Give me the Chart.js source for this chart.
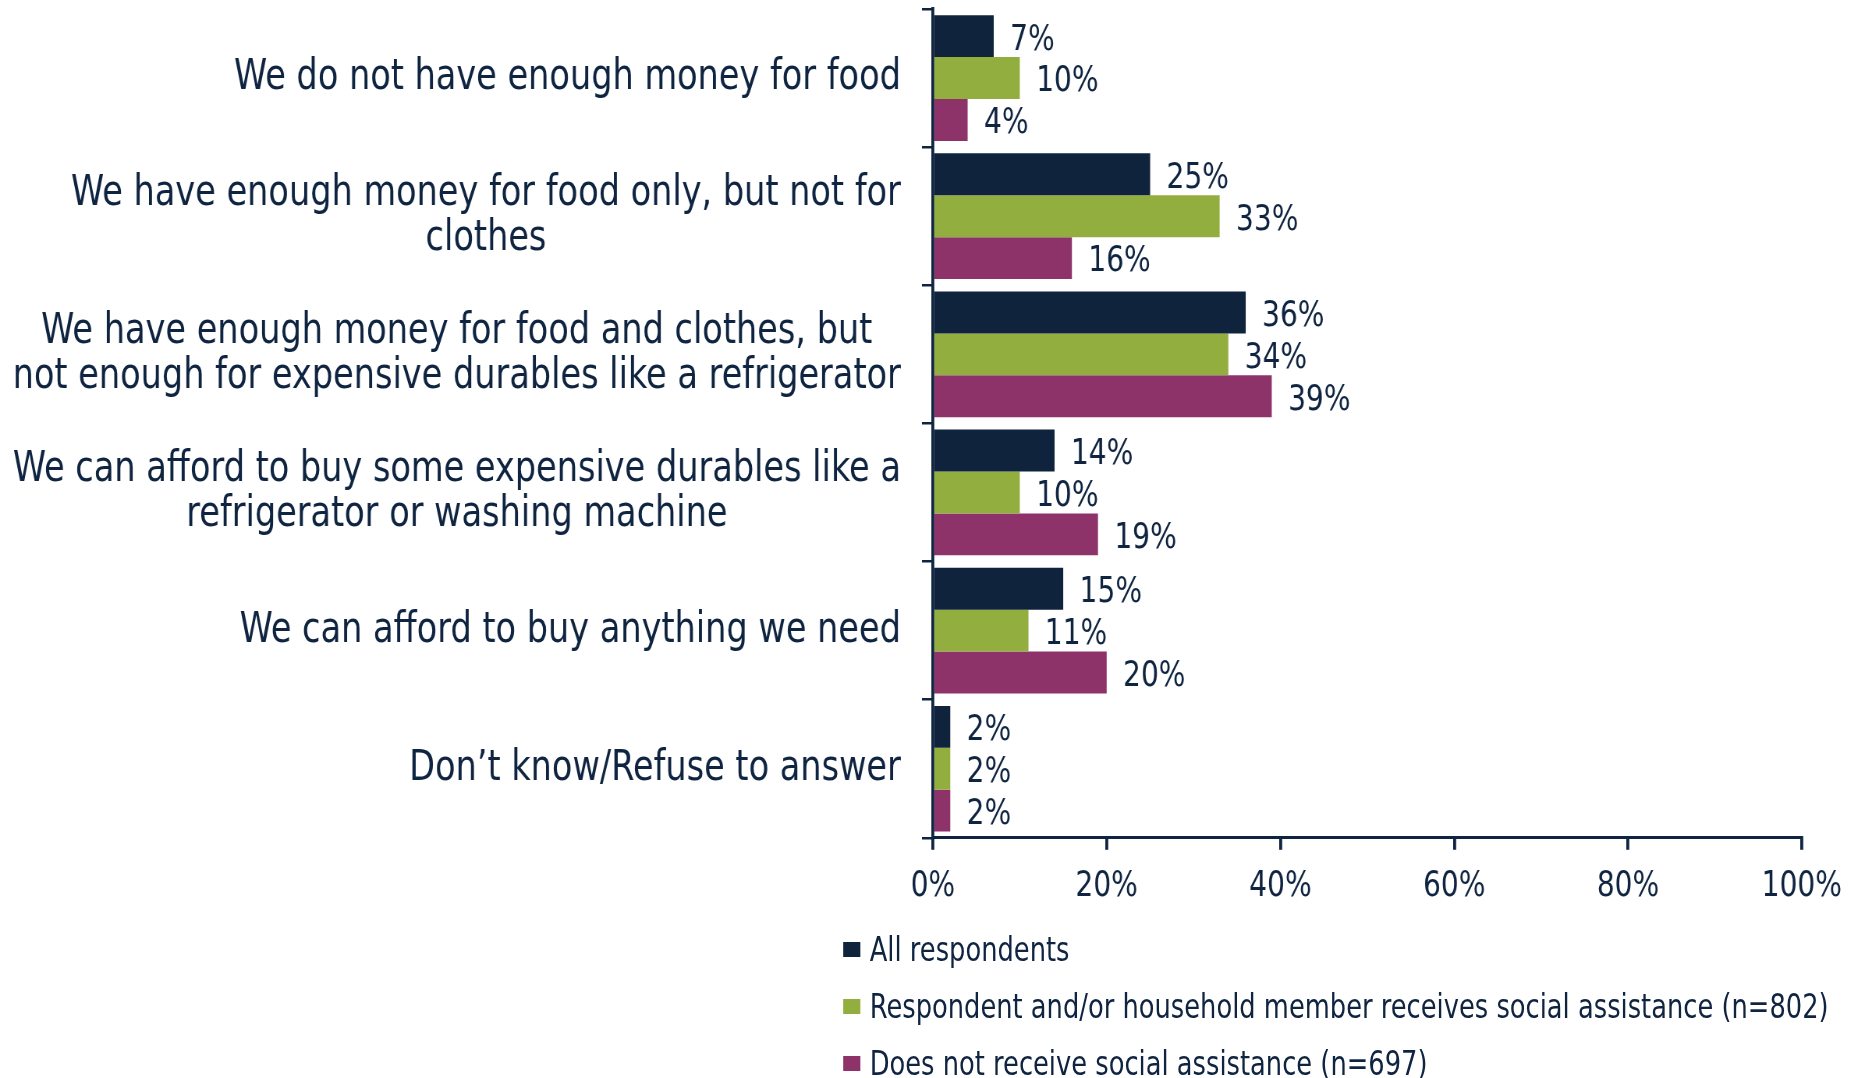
<!DOCTYPE html>
<html>
<head>
<meta charset="utf-8">
<title>Household financial situation</title>
<script src="https://cdn.jsdelivr.net/npm/chart.js@4.4.1/dist/chart.umd.min.js"></script>
<style>
  html, body { margin: 0; padding: 0; background: #fff; overflow: hidden; }
  /* the whole chart is drawn wide and squeezed, like the narrow type of the original */
  #wrap { position: relative; width: 2385px; height: 1078px; transform: scaleX(0.78); transform-origin: 0 0; }
  #legend { position: absolute; left: 1081px; top: 921px; font-family: "DejaVu Sans", sans-serif; font-size: 33px; color: #0f2440; }
  .item { height: 57px; display: flex; align-items: center; white-space: nowrap; }
  .box { width: 22px; height: 15px; margin-right: 12px; }
</style>
</head>
<body>
<div id="wrap">
  <canvas id="chart" width="2385" height="1078"></canvas>
  <div id="legend"></div>
</div>
<script>
const categories = [
    "We do not have enough money for food",
    ["We have enough money for food only, but not for", "clothes"],
    ["We have enough money for food and clothes, but", "not enough for expensive durables like a refrigerator"],
    ["We can afford to buy some expensive durables like a", "refrigerator or washing machine"],
    "We can afford to buy anything we need",
    "Don\u2019t know/Refuse to answer"
];

const seriesNames = [
    "All respondents",
    "Respondent and/or household member receives social assistance (n=802)",
    "Does not receive social assistance (n=697)"
];

const allRespondents = [7, 25, 36, 14, 15, 2];
const receivesAssistance = [10, 33, 34, 10, 11, 2];
const noAssistance = [4, 16, 39, 19, 20, 2];

const xTickValues = [0, 20, 40, 60, 80, 100];

const navy = '#0f2440';
const colors = ['#10233d', '#92ae3f', '#8e336a'];

Chart.defaults.font.family = '"DejaVu Sans", sans-serif';
Chart.defaults.color = navy;

// value labels at the end of each bar
const valueLabels = {
    id: 'valueLabels',
    afterDatasetsDraw(chart) {
        const ctx = chart.ctx;
        ctx.save();
        ctx.font = '36px "DejaVu Sans"';
        ctx.fillStyle = navy;
        ctx.textAlign = 'left';
        ctx.textBaseline = 'middle';
        chart.data.datasets.forEach((ds, i) => {
            chart.getDatasetMeta(i).data.forEach((bar, j) => {
                ctx.fillText(ds.data[j] + '%', bar.x + 21, bar.y + 4);
            });
        });
        ctx.restore();
    }
};

// two-line category labels are centred on themselves, the block stays right aligned
const centerLabelBlocks = {
    id: 'centerLabelBlocks',
    beforeDraw(chart) {
        const scale = chart.scales.y;
        const items = scale.getLabelItems();
        const sizes = scale._getLabelSizes();
        items.forEach((item, i) => {
            if (item.centered) return;
            item.options.textAlign = 'center';
            item.options.translation[0] -= sizes.widths[i] / 2;
            item.centered = true;
        });
    }
};

const data = {
    labels: categories,
    datasets: [
        { label: seriesNames[0], data: allRespondents, backgroundColor: colors[0] },
        { label: seriesNames[1], data: receivesAssistance, backgroundColor: colors[1] },
        { label: seriesNames[2], data: noAssistance, backgroundColor: colors[2] }
    ]
};

const config = {
    type: 'bar',
    data: data,
    options: {
        indexAxis: 'y',
        responsive: false,
        animation: false,
        layout: { padding: { top: 9, right: 75, bottom: 155, left: 0 } },
        datasets: { bar: { categoryPercentage: 0.91, barPercentage: 1 } },
        plugins: {
            legend: { display: false },
            tooltip: { enabled: false }
        },
        scales: {
            x: {
                min: 0,
                max: 100,
                afterBuildTicks: axis => { axis.ticks = xTickValues.map(v => ({ value: v })); },
                ticks: { callback: v => v + '%', font: { size: 36 }, color: navy, padding: 15 },
                grid: { drawOnChartArea: false, drawTicks: true, tickLength: 12, color: navy, lineWidth: 3.8 },
                border: { color: navy, width: 3 }
            },
            y: {
                afterFit(scale) {
                    scale.width = 1196;
                    scale.paddingTop = 0;
                    scale.paddingBottom = 0;
                },
                ticks: { font: { size: 43, lineHeight: 1.03 }, color: navy, padding: 27 },
                grid: { offset: true, drawOnChartArea: false, drawTicks: true, tickLength: 14, color: navy, lineWidth: 2.5 },
                border: { color: navy, width: 3.8 }
            }
        }
    },
    plugins: [valueLabels, centerLabelBlocks]
};

const canvas = document.getElementById('chart');
const chart = new Chart(canvas, config);

// legend as a plain list under the axis
const legendBox = document.getElementById('legend');
for (const item of Chart.defaults.plugins.legend.labels.generateLabels(chart)) {
    const row = document.createElement('div');
    row.className = 'item';
    const box = document.createElement('span');
    box.className = 'box';
    box.style.background = item.fillStyle;
    row.appendChild(box);
    const text = document.createElement('span');
    text.textContent = item.text;
    row.appendChild(text);
    legendBox.appendChild(row);
}
</script>
</body>
</html>
